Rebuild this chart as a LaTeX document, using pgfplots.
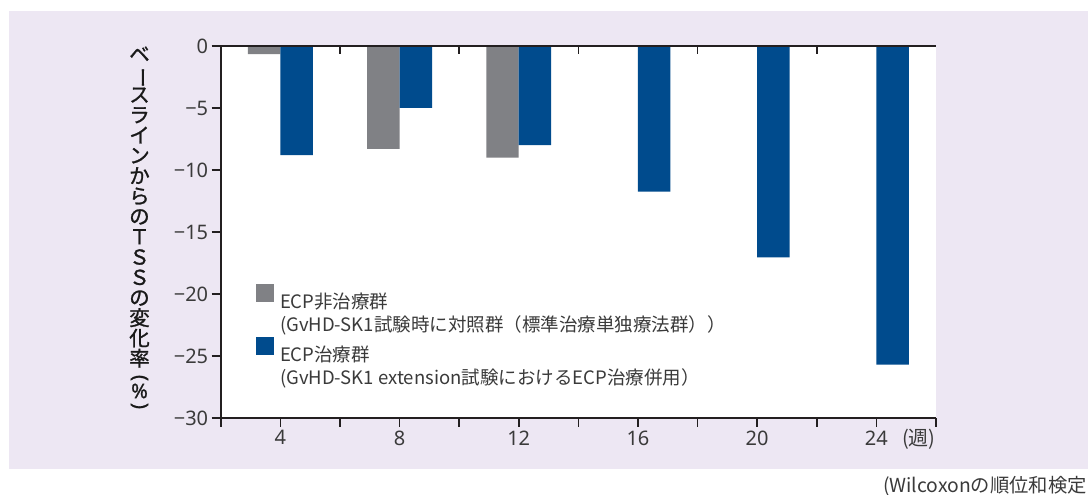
\documentclass[border=0pt]{standalone}
\usepackage{fontspec}
\setmainfont{Noto Sans CJK JP}
\newfontfamily\numfont{Noto Sans}
\newfontfamily\labfont[FakeBold=1.2]{Noto Sans CJK JP}
\newfontfamily\labfontlat[FakeBold=1.2]{Noto Sans}
\usepackage{graphicx}
\usepackage{pgfplots}
\pgfplotsset{compat=1.18}
\definecolor{bg}{HTML}{EDE7F3}
\definecolor{bargrey}{HTML}{808185}
\definecolor{barblue}{HTML}{004B8D}
\definecolor{axisc}{HTML}{231F20}
\definecolor{txt}{HTML}{3A3A3A}
\begin{document}
\begin{tikzpicture}[x=1pt,y=1pt]
\useasboundingbox (0,0) rectangle (1088,495);
\fill[bg] (9,26) rectangle (1088,484);
\begin{axis}[
  at={(220.7pt,77pt)}, anchor=south west,
  width=715.3pt, height=372pt, scale only axis,
  xmin=2, xmax=26, ymin=-30, ymax=0,
  axis background/.style={fill=white},
  axis x line*=bottom, axis y line*=left,
  axis line style={-, line width=1.6pt, color=axisc},
  tick style={line width=1.6pt, color=axisc},
  tick align=outside, major tick length=9pt,
  xtick={2,4,...,26},
  xticklabels={{},4,{},8,{},12,{},16,{},20,{},24,{}},
  ytick={-30,-25,...,0},
  yticklabels={−30,−25,−20,−15,−10,−5,0},
  ticklabel style={font=\numfont\fontsize{20}{20}\selectfont, text=txt},
  ybar, bar width=1.09,
  legend cell align=left,
  legend style={draw=none, fill=none, inner sep=0pt, outer sep=0pt,
    at={(axis description cs:0.0494,0.361)}, anchor=north west,
    row sep=0.5pt, column sep=6pt,
    font=\fontsize{18.5}{18.5}\selectfont, text=txt,
    nodes={inner sep=0pt, text height=17pt, text depth=5pt}},
]
\addplot[fill=bargrey, draw=none, bar shift=-0.545,
  legend image code/.code={\fill[bargrey] (0pt,1pt) rectangle (18pt,19pt);}]
  coordinates {(4,-0.65) (8,-8.3) (12,-9.0)};
\addlegendentry{ECP非治療群}
\addlegendimage{empty legend}
\addlegendentry{(GvHD-SK1試験時に対照群（標準治療単独療法群））}
\addplot[fill=barblue, draw=none, bar shift=0.545,
  legend image code/.code={\fill[barblue] (0pt,1pt) rectangle (18pt,19pt);}]
  coordinates {(4,-8.8) (8,-5.0) (12,-8.0) (16,-11.75) (20,-17.05) (24,-25.7)};
\addlegendentry{ECP治療群}
\addlegendimage{empty legend}
\addlegendentry{(GvHD-SK1 extension試験におけるECP治療併用）}
\end{axis}
\begin{axis}[
  at={(220.7pt,77pt)}, anchor=south west,
  width=715.3pt, height=372pt, scale only axis,
  xmin=2, xmax=26, ymin=-30, ymax=0,
  axis x line*=top, axis y line=none,
  axis line style={-, line width=1.6pt, color=axisc},
  tick style={line width=1.6pt, color=axisc},
  tick align=inside, major tick length=8pt,
  xtick={6,10,...,22}, xticklabels={}, ytick=\empty,
]
\end{axis}
\node[anchor=west, font=\fontsize{20}{20}\selectfont, text=txt, inner sep=0pt] at (902,56) {(週)};
\node[anchor=west, font=\fontsize{19.3}{19.3}\selectfont, text=txt, inner sep=0pt] at (883,9) {(Wilcoxonの順位和検定};
\lineskiplimit=-30pt\relax
\node[anchor=north, align=center, inner sep=0pt, font=\labfont\fontsize{20.5}{20.3}\selectfont, text=black!90] at (139.5,448.6)
 {ベ\\\smash{\rotatebox[origin=c]{-90}{ー}}\\ス\\ラ\\イ\\ン\\か\\ら\\の\\Ｔ\\Ｓ\\Ｓ\\の\\変\\化\\率};
\node[rotate=-90, inner sep=0pt, font=\labfontlat\fontsize{20}{20}\selectfont, text=black!90] at (139.5,117) {(};
\node[inner sep=0pt, font=\labfontlat\fontsize{20}{20}\selectfont, text=black!90] at (139.5,104) {\%};
\node[rotate=-90, inner sep=0pt, font=\labfontlat\fontsize{20}{20}\selectfont, text=black!90] at (139.5,89) {)};
\end{tikzpicture}
\end{document}
